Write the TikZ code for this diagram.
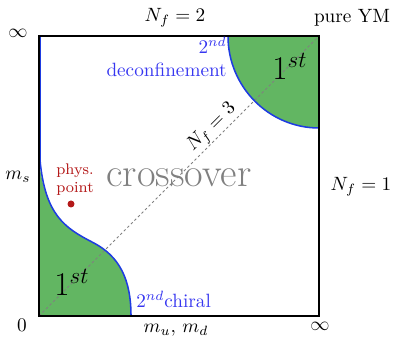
\documentclass[tikz,border=0pt]{standalone}
\usepackage{amsmath,amssymb}
\usepackage{tikz}
\usetikzlibrary{positioning}

\definecolor{regiongreen}{RGB}{98,182,98}
\definecolor{lineblue}{RGB}{30,60,225}
\definecolor{textblue}{RGB}{55,55,240}
\definecolor{physred}{RGB}{180,25,25}

\begin{document}
\begin{tikzpicture}[
  x=0.52pt, y=-0.52pt,
  frame/.style={draw=black, line width=1.1pt},
  trans/.style={draw=lineblue, line width=0.8pt},
  first/.style={fill=regiongreen},
  lbl/.style={font=\normalsize, inner sep=1pt},
  order/.style={font=\LARGE, inner sep=1pt},
  bluelbl/.style={text=textblue, font=\normalsize, inner sep=1pt},
  diag/.style={draw=gray, line width=0.5pt, dash pattern=on 1.3pt off 1.3pt}
]
\useasboundingbox (0,0) rectangle (393,344);

% first order regions
\path[first] (39,160) .. controls (45,215) and (65,228) .. (92,242)
  .. controls (120,256) and (131,280) .. (131,316) -- (39,316) -- cycle;
\path[first] (228,36) .. controls (228,87) and (269,128) .. (319,128)
  -- (319,36) -- cycle;

% Nf=3 line
\coordinate (origin) at (39,316);
\coordinate (ym) at (319,36);
\draw[diag] (origin) -- node[pos=0.645, sloped, above, lbl, inner sep=0.5pt] (nf3) {$N_f=3$} (ym);

% second order lines
\draw[trans] (40,36) -- (40,160) .. controls (45,215) and (65,228) .. (92,242)
  .. controls (120,256) and (131,280) .. (131,316);
\draw[trans] (228,36) .. controls (228,87) and (269,128) .. (319,128);

% frame
\draw[frame] (39,36) rectangle (319,316);

% axis labels
\node[lbl] (inftop) at (18,33) {$\infty$};
\node[lbl] (nf2) at (175,18) {$N_f=2$};
\node[lbl] (pym) at (352,18) {pure YM};
\node[lbl] (ms) at (18,177) {$m_s$};
\node[lbl] (nf1) at (361,187) {$N_f=1$};
\node[lbl] (zero) at (22,325) {$0$};
\node[lbl] (mud) at (176,330) {$m_u,\,m_d$};
\node[lbl] (infright) at (320,326) {$\infty$};

% regions
\node[text=gray, font=\fontsize{21}{24}\selectfont] (cross) at (179,178) {crossover};
\node[order] (firstlow) at (72,282) {$1^{st}$};
\node[order] (firsthigh) at (290,66) {$1^{st}$};
\node[bluelbl, anchor=west] (chiral) at (134,299) {$2^{nd}$chiral};
\node[bluelbl, anchor=east, align=right] (deconf) at (229,57) {$2^{nd}$\\deconfinement};

% physical point
\node[text=physred, font=\footnotesize, align=center, inner sep=0pt] (phys) at (75,180) {phys.\\point};
\fill[physred] (71,204) circle (3.5);
\end{tikzpicture}
\end{document}
